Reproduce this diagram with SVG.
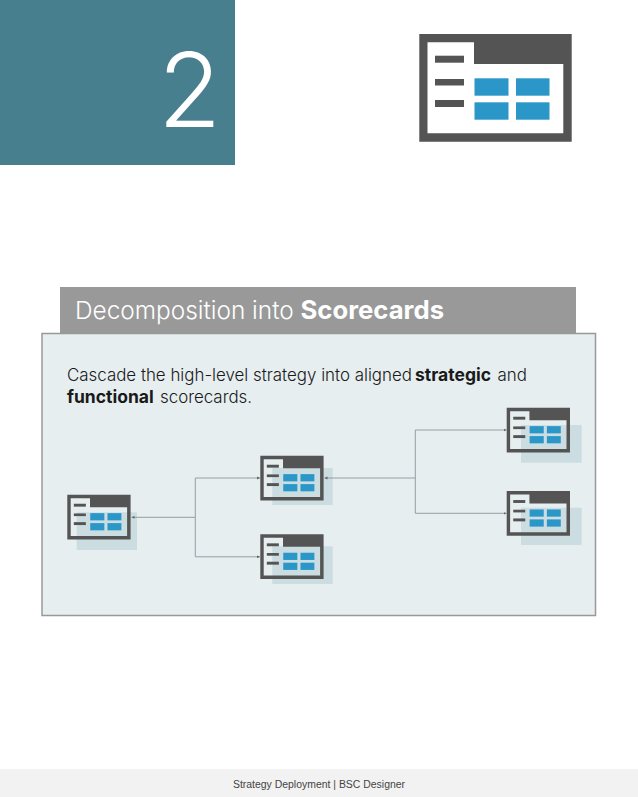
<svg xmlns="http://www.w3.org/2000/svg" width="638" height="797" viewBox="0 0 638 797">
<style>
.ic{fill:#545454}.bl{fill:#2b97c9}.sh{fill:#cbdde1}
.cn{fill:none;stroke:#8c9597;stroke-width:.9}
text{font-family:"Inter","Liberation Sans",Arial,sans-serif}
.body{font-size:16.9px;font-weight:300;fill:#1a1a1a}
.b{font-weight:700}
.bb{font-size:17.5px}
</style>
<defs>
<symbol id="icon" viewBox="0 0 152.4 107.7" overflow="visible">
<path class="ic" fill-rule="evenodd" d="M0 0H152.4V107.7H0ZM8.2 8.3V99.3H144V30H54.7V8.3Z"/>
<rect class="ic" x="15.7" y="21.7" width="29" height="7"/>
<rect class="ic" x="15.7" y="45" width="29" height="6.5"/>
<rect class="ic" x="15.7" y="66" width="29" height="7"/>
<rect class="bl" x="55.2" y="44.3" width="34" height="17.4"/>
<rect class="bl" x="96.7" y="44.3" width="33.5" height="17.4"/>
<rect class="bl" x="55.2" y="68.3" width="34" height="17.4"/>
<rect class="bl" x="96.7" y="68.3" width="33.5" height="17.4"/>
</symbol>
<marker id="dot" markerWidth="4" markerHeight="4" refX="3" refY="2" orient="auto" markerUnits="userSpaceOnUse"><path d="M0 .6L3 2L0 3.4Z" fill="#666"/></marker>
<marker id="start" markerWidth="4" markerHeight="4" refX="0" refY="2" orient="auto" markerUnits="userSpaceOnUse"><path d="M3 .6L0 2L3 3.4Z" fill="#666"/></marker>
</defs>
<rect width="638" height="797" fill="#fff"/>
<g id="badge"><rect width="235" height="165" fill="#477f8e"/>
<text x="158" y="127" font-size="103" font-weight="300" fill="#fff">2</text></g>
<g id="hero-icon"><use href="#icon" x="419.3" y="34" width="152.4" height="107.7"/></g>
<g id="panel">
<rect x="60" y="287" width="516" height="47" fill="#999"/>
<text x="75" y="319" font-size="24.4" font-weight="300" fill="#fff">Decomposition into <tspan class="b" x="300.5" font-size="25.7">Scorecards</tspan></text>
<rect x="42" y="333.5" width="553.5" height="282" fill="#e6eef0" stroke="#999" stroke-width="1.5"/>
<text class="body" x="67" y="381">Cascade the high-level strategy into aligned <tspan class="b bb" x="415">strategic</tspan> <tspan x="497.5">and</tspan></text>
<text class="body" x="67" y="403"><tspan class="b bb">functional</tspan> <tspan x="160">scorecards.</tspan></text>
</g>
<g id="node-a"><rect class="sh" x="76.7" y="512.3" width="60.3" height="37.7"/><use href="#icon" x="67.3" y="494.7" width="63.3" height="44.8"/></g>
<g id="node-b"><rect class="sh" x="272.3" y="468" width="60.4" height="37"/><use href="#icon" x="260.3" y="455.7" width="63.3" height="44.8"/></g>
<g id="node-c"><rect class="sh" x="272.3" y="546.3" width="60.4" height="37.7"/><use href="#icon" x="260.3" y="534.3" width="63.3" height="44.8"/></g>
<g id="node-d"><rect class="sh" x="521" y="425" width="60.7" height="37.7"/><use href="#icon" x="506.7" y="407.7" width="63.3" height="44.8"/></g>
<g id="node-e"><rect class="sh" x="521" y="507.7" width="60.7" height="37.3"/><use href="#icon" x="506.7" y="491" width="63.3" height="44.8"/></g>
<g id="connectors">
<path class="cn" marker-start="url(#start)" marker-end="url(#dot)" d="M131.5 517.3H195.3V478H260"/>
<path class="cn" marker-end="url(#dot)" d="M195.3 517.3V556.8H260"/>
<path class="cn" marker-start="url(#start)" marker-end="url(#dot)" d="M324.5 478H415.3V430H506.5"/>
<path class="cn" marker-end="url(#dot)" d="M415.3 478V513.3H506.5"/>
</g>
<g id="footer"><rect y="769" width="638" height="28" fill="#f2f2f2"/>
<text x="319" y="787.5" text-anchor="middle" font-size="10.45" fill="#444" style="font-family:'Liberation Sans',Arial,sans-serif">Strategy Deployment | BSC Designer</text></g>
</svg>
